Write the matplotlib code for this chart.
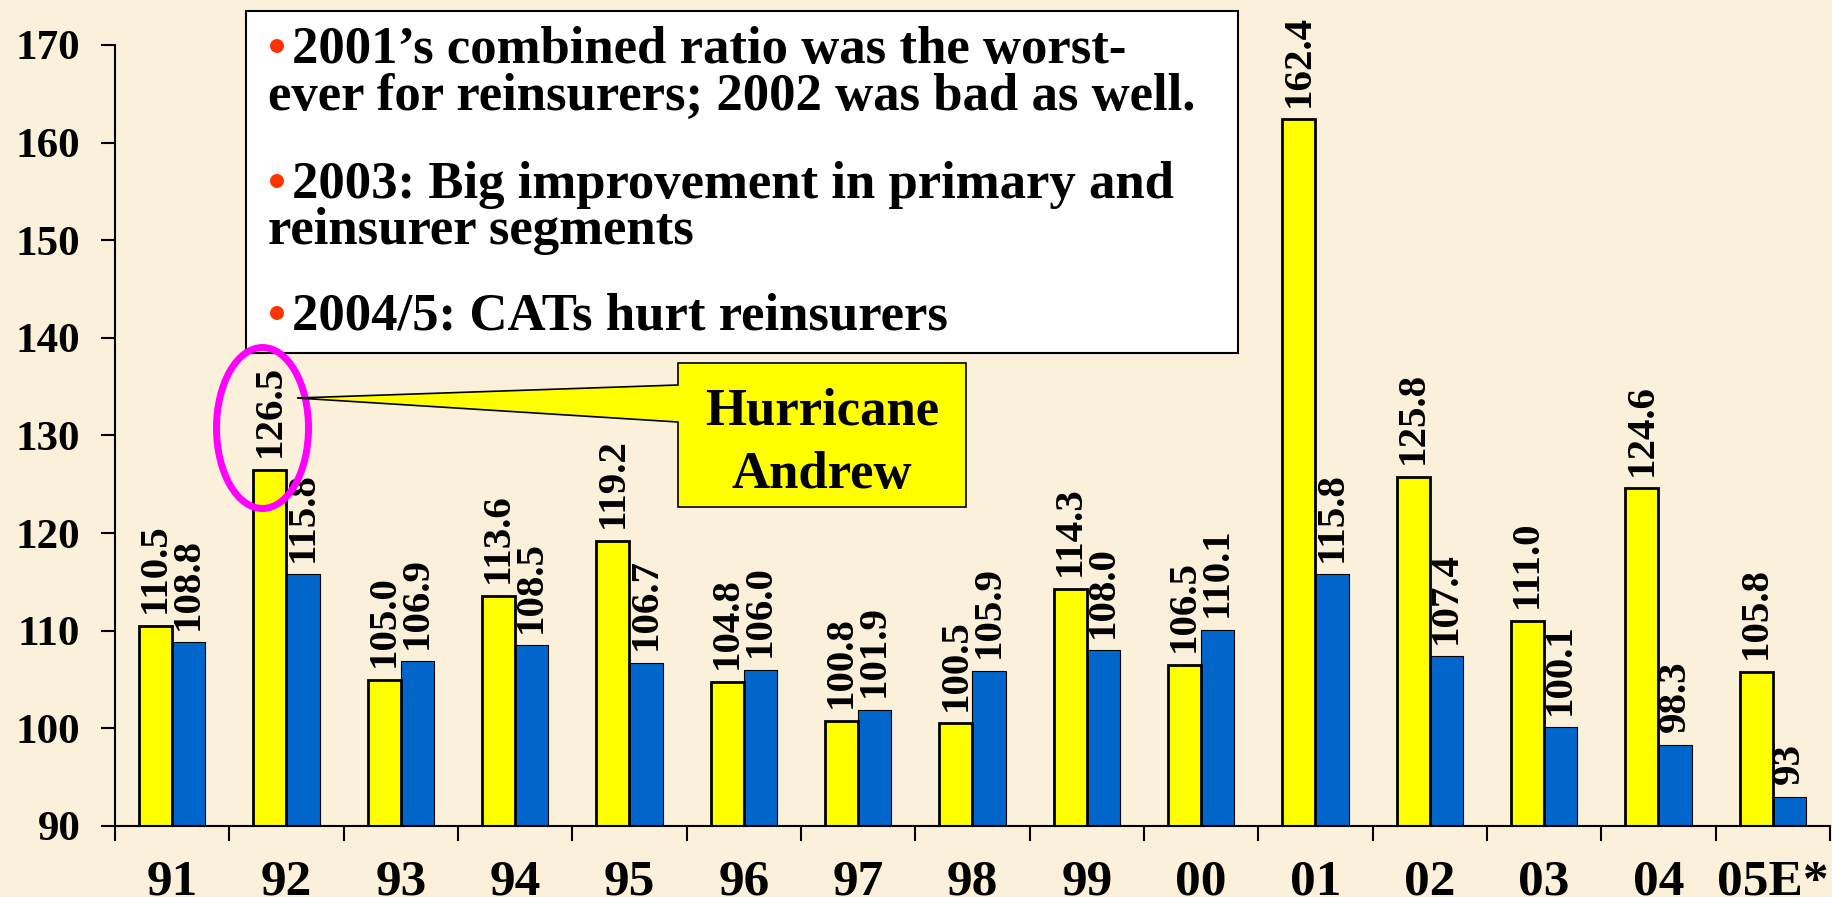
import matplotlib
matplotlib.use('Agg')
import matplotlib.pyplot as plt
from matplotlib.patches import Rectangle, Polygon, Ellipse
import numpy as np

# ---------------- data ----------------
years = ['91', '92', '93', '94', '95', '96', '97', '98', '99', '00',
         '01', '02', '03', '04', '05E*']
reinsurers = [110.5, 126.5, 105.0, 113.6, 119.2, 104.8, 100.8, 100.5, 114.3,
              106.5, 162.4, 125.8, 111.0, 124.6, 105.8]
primary = [108.8, 115.8, 106.9, 108.5, 106.7, 106.0, 101.9, 105.9, 108.0,
           110.1, 115.8, 107.4, 100.1, 98.3, 93]
reins_labels = ['110.5', '126.5', '105.0', '113.6', '119.2', '104.8', '100.8',
                '100.5', '114.3', '106.5', '162.4', '125.8', '111.0', '124.6',
                '105.8']
prim_labels = ['108.8', '115.8', '106.9', '108.5', '106.7', '106.0', '101.9',
               '105.9', '108.0', '110.1', '115.8', '107.4', '100.1', '98.3',
               '93']
y_ticks = [90, 100, 110, 120, 130, 140, 150, 160, 170]
bullets = [
    ['2001\u2019s combined ratio was the worst-',
     'ever for reinsurers; 2002 was bad as well.'],
    ['2003: Big improvement in primary and',
     'reinsurer segments'],
    ['2004/5: CATs hurt reinsurers'],
]
callout_text = 'Hurricane\nAndrew'

# ---------------- style ----------------
BG = '#FBF0DA'
YELLOW = '#FFFF00'
BLUE = '#0066CC'
SERIF = 'Liberation Serif'
plt.rcParams['font.family'] = [SERIF, 'DejaVu Serif']
plt.rcParams['font.weight'] = 'bold'

W, H = 1833, 897
fig = plt.figure(figsize=(W / 100, H / 100), dpi=100)
fig.patch.set_facecolor(BG)


def fx(px):
    return px / W


def fy(py):
    return 1 - py / H


ax = fig.add_axes([fx(115), fy(826), fx(1830) - fx(115), fy(45) - fy(826)])
ax.set_facecolor('none')

x = np.arange(len(years))
bw = 0.29
base = y_ticks[0]
ax.bar(x + bw / 2, [v - base for v in primary], bw, bottom=base, color=BLUE,
       edgecolor='black', linewidth=0.8, zorder=2)
ax.bar(x - bw / 2, [v - base for v in reinsurers], bw, bottom=base,
       color=YELLOW, edgecolor='black', linewidth=2.0, zorder=3)

for xs, vals, labs in ((x - bw / 2, reinsurers, reins_labels),
                       (x + bw / 2, primary, prim_labels)):
    for xi, v, s in zip(xs, vals, labs):
        ax.annotate(s, (xi, v), xytext=(0, 9), textcoords='offset points',
                    rotation=90, ha='center', va='bottom', fontsize=29.5,
                    fontweight='bold', zorder=5, annotation_clip=False)

ax.set_xlim(-0.5, len(years) - 0.5)
ax.set_ylim(y_ticks[0], y_ticks[-1])
for s in ('top', 'right'):
    ax.spines[s].set_visible(False)
for s in ('left', 'bottom'):
    ax.spines[s].set_linewidth(1.5)
    ax.spines[s].set_zorder(4)

ax.set_yticks(y_ticks)
ax.set_yticklabels([str(t) for t in y_ticks])
ax.tick_params(axis='y', direction='out', length=10, width=1.5, pad=15,
               labelsize=31)
ax.set_xticks(x)
ax.set_xticklabels(years)
ax.tick_params(axis='x', which='major', length=0, pad=24, labelsize=37)
ax.set_xticks(np.arange(-0.5, len(years), 1), minor=True)
ax.tick_params(axis='x', which='minor', direction='out', length=11, width=1.5)

# ---------------- text box ----------------
box = Rectangle((fx(246), fy(353)), fx(1238) - fx(246), fy(11) - fy(353),
                transform=fig.transFigure, facecolor='white',
                edgecolor='black', linewidth=1.5, zorder=2)
fig.add_artist(box)

FS_BOX = 38
baselines = [[63, 110], [198, 244], [330]]
for lines, bls in zip(bullets, baselines):
    for i, (line, bl) in enumerate(zip(lines, bls)):
        if i == 0:
            dot = Ellipse((fx(277), fy(bl - 17)), fx(14), 14 / H,
                          transform=fig.transFigure, facecolor='#FF3300',
                          edgecolor='none', zorder=3)
            fig.add_artist(dot)
            fig.text(fx(292), fy(bl), line, fontsize=FS_BOX,
                     fontweight='bold', va='baseline', ha='left', zorder=3)
        else:
            fig.text(fx(268), fy(bl), line, fontsize=FS_BOX,
                     fontweight='bold', va='baseline', ha='left', zorder=3)

# ---------------- highlight ellipse ----------------
ell = Ellipse((fx(262.5), fy(428)), fx(92), 161 / H, transform=fig.transFigure,
              facecolor='none', edgecolor='#FF00FF', linewidth=5, zorder=3)
fig.add_artist(ell)

# ---------------- callout ----------------
pts = [(678, 363), (966, 363), (966, 507), (678, 507), (678, 422),
       (297, 398), (678, 385)]
callout = Polygon([(fx(px), fy(py)) for px, py in pts], closed=True,
                  transform=fig.transFigure, facecolor=YELLOW,
                  edgecolor='black', linewidth=1.2, zorder=4)
fig.add_artist(callout)
ctext = callout_text.split('\n')
for line, bl in zip(ctext, [424, 488]):
    fig.text(fx(822), fy(bl), line, fontsize=38, fontweight='bold',
             ha='center', va='baseline', zorder=5)

fig.savefig('out.png', dpi=100, facecolor=BG)
